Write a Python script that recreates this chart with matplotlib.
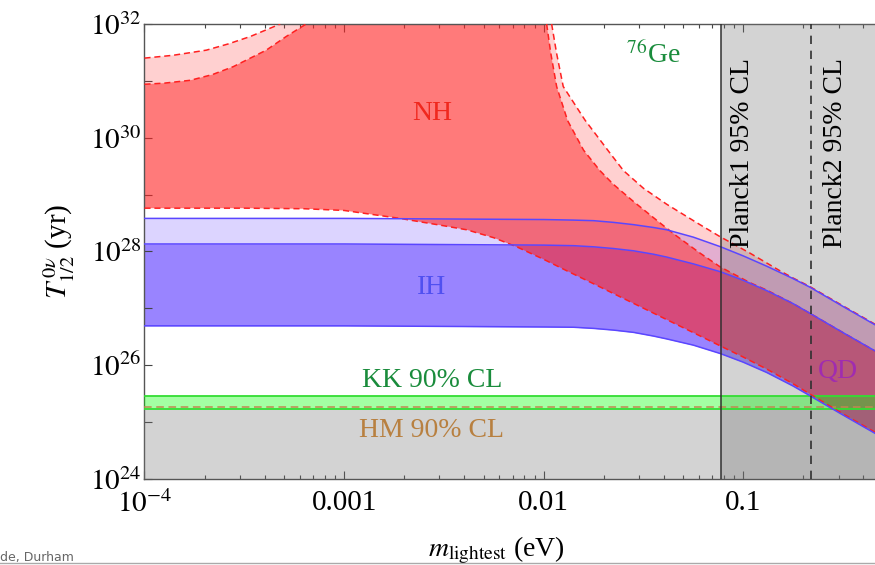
import matplotlib
matplotlib.use('Agg')
import matplotlib.pyplot as plt
import numpy as np
from matplotlib.lines import Line2D
from matplotlib.ticker import FixedLocator, FixedFormatter, LogLocator, NullFormatter

plt.rcParams['font.family'] = ['Liberation Serif', 'DejaVu Serif']
plt.rcParams['mathtext.fontset'] = 'stix'

# values: log10(m_lightest / eV) and log10(T_1/2 / yr)

# inverted hierarchy band
ih_logm = [-4.0, -3.0, -2.5, -2.0, -1.85, -1.75, -1.65, -1.55, -1.45, -1.384, -1.25, -1.113,
           -1.0, -0.883, -0.75, -0.666, -0.5, -0.301]
ih_hi = [28.58, 28.58, 28.57, 28.56, 28.55, 28.54, 28.51, 28.47, 28.42, 28.38, 28.25, 28.08,
         27.92, 27.74, 27.52, 27.37, 27.03, 26.63]
ih_mid = [28.13, 28.13, 28.12, 28.11, 28.10, 28.08, 28.05, 28.01, 27.95, 27.90, 27.78, 27.64,
          27.49, 27.31, 27.08, 26.91, 26.57, 26.17]
ih_lo = [26.69, 26.69, 26.68, 26.67, 26.665, 26.645, 26.615, 26.575, 26.51, 26.46, 26.35, 26.20,
         26.05, 25.87, 25.63, 25.46, 25.12, 24.72]

# normal hierarchy band, lower edge
nh_lo_logm = [-4.0, -3.5, -3.2, -3.0, -2.72, -2.5, -2.386, -2.25, -2.135, -2.0, -1.885, -1.75, -1.634,
              -1.5, -1.384, -1.25, -1.117, -1.0, -0.883, -0.75, -0.666, -0.5, -0.301]
nh_lo = [28.76, 28.76, 28.75, 28.72, 28.58, 28.45, 28.38, 28.24, 28.08, 27.86, 27.66, 27.43, 27.23,
         27.00, 26.80, 26.57, 26.34, 26.14, 25.93, 25.67, 25.49, 25.14, 24.74]

# normal hierarchy, upper edges left of the cancellation region
nh_in_l_logm = [-4.0, -3.9, -3.77, -3.66, -3.555, -3.39, -3.29, -3.19]
nh_in_l = [30.94, 30.96, 31.01, 31.11, 31.25, 31.54, 31.78, 32.0]
nh_out_l_logm = [-4.0, -3.856, -3.69, -3.58, -3.47, -3.32]
nh_out_l = [31.40, 31.45, 31.54, 31.65, 31.78, 32.0]

# normal hierarchy, upper edges right of the cancellation region
nh_in_r_logm = [-1.985, -1.965, -1.935, -1.88, -1.80, -1.718, -1.651, -1.551, -1.417, -1.334, -1.217,
                -1.117, -0.967, -0.883, -0.75, -0.666, -0.5, -0.301]
nh_in_r = [32.0, 31.50, 30.90, 30.30, 29.78, 29.42, 29.18, 28.88, 28.50, 28.27, 27.97,
           27.73, 27.45, 27.32, 27.08, 26.91, 26.57, 26.17]
nh_out_r_logm = [-1.96, -1.935, -1.902, -1.793, -1.668, -1.6, -1.5, -1.384, -1.217, -1.117, -0.967,
                 -0.817, -0.75, -0.666, -0.5, -0.301]
nh_out_r = [32.0, 31.48, 30.90, 30.31, 29.73, 29.42, 29.11, 28.83, 28.47, 28.26, 27.97,
            27.66, 27.53, 27.38, 27.04, 26.64]

# experimental limits
kk_band = [1.7e25, 2.9e25]
hm_bound = 1.86e25
planck1 = 0.077
planck2 = 0.218

xticks = [1e-4, 1e-3, 1e-2, 1e-1]
xticklabels = [r'$10^{-4}$', '0.001', '0.01', '0.1']
yexp = [24, 25, 26, 27, 28, 29, 30, 31, 32]


def polygon(lo_m, lo_t, right_m, right_t, left_m, left_t):
    xs = list(lo_m) + list(right_m[::-1]) + list(left_m[::-1])
    ys = list(lo_t) + list(right_t[::-1]) + list(left_t[::-1])
    return 10 ** np.array(xs), 10 ** np.array(ys)


nh_col = (1.0, 0.15, 0.15)
ih_col = (0.27, 0.12, 1.0)
gray = (0.46, 0.46, 0.46)

fig = plt.figure(figsize=(8.75, 5.65), dpi=100)
ax = fig.add_axes([0.1651, 0.1527, 0.8438, 0.8048])
ax.set_xscale('log')
ax.set_yscale('log')

m_ih = 10 ** np.array(ih_logm)
ax.fill_between(m_ih, 10 ** np.array(ih_lo), 10 ** np.array(ih_hi), color=ih_col, alpha=0.19, lw=0, zorder=1)
ax.fill_between(m_ih, 10 ** np.array(ih_lo), 10 ** np.array(ih_mid), color=ih_col, alpha=0.44, lw=0, zorder=1.1)

xo, yo = polygon(nh_lo_logm, nh_lo, nh_out_r_logm, nh_out_r, nh_out_l_logm, nh_out_l)
ax.fill(xo, yo, color=nh_col, alpha=0.217, lw=0, zorder=2)
xi, yi = polygon(nh_lo_logm, nh_lo, nh_in_r_logm, nh_in_r, nh_in_l_logm, nh_in_l)
ax.fill(xi, yi, color=nh_col, alpha=0.507, lw=0, zorder=2.1)

# excluded regions
ax.axvspan(planck1, 1.0, color=gray, alpha=0.318, lw=0, zorder=3)
ax.axhspan(1e23, kk_band[0], color=gray, alpha=0.318, lw=0, zorder=3)

# KK band
ax.axhspan(kk_band[0], kk_band[1], color=(0, 1, 0), alpha=0.36, lw=0, zorder=4)
for yk in kk_band:
    ax.axhline(yk, color='#33dd33', lw=1.3, zorder=4.5)
ax.axhline(hm_bound, color='#c08850', lw=1.1, dashes=(5, 3), zorder=4.6)

# band edges
nh_line = dict(color='#ff2020', lw=1.1, dashes=(4, 2.5), zorder=5)
ax.plot(10 ** np.array(nh_lo_logm), 10 ** np.array(nh_lo), **nh_line)
ax.plot(10 ** np.array(nh_in_l_logm), 10 ** np.array(nh_in_l), **nh_line)
ax.plot(10 ** np.array(nh_out_l_logm), 10 ** np.array(nh_out_l), **nh_line)
ax.plot(10 ** np.array(nh_in_r_logm), 10 ** np.array(nh_in_r), **nh_line)
ax.plot(10 ** np.array(nh_out_r_logm), 10 ** np.array(nh_out_r), **nh_line)
for edge in (ih_hi, ih_mid, ih_lo):
    ax.plot(m_ih, 10 ** np.array(edge), color='#5a46ff', lw=1.1, zorder=5.1)

ax.axvline(planck1, color='#303030', lw=1.1, zorder=6)
ax.axvline(planck2, color='#303030', lw=1.2, dashes=(5, 4), zorder=6)

# labels inside the plot
fs = 20
ax.text(10 ** -2.56, 10 ** 30.43, 'NH', color='#f0281e', fontsize=fs, ha='center', va='center', zorder=7)
ax.text(10 ** -2.56, 10 ** 27.37, 'IH', color='#5050f0', fontsize=fs, ha='center', va='center', zorder=7)
ax.text(10 ** -2.56, 10 ** 25.72, 'KK 90% CL', color='#1a8c3c', fontsize=fs, ha='center', va='center', zorder=7)
ax.text(10 ** -2.56, 10 ** 24.84, 'HM 90% CL', color='#b88040', fontsize=fs, ha='center', va='center', zorder=7)
ax.text(10 ** -0.526, 10 ** 25.88, 'QD', color='#a02cb0', fontsize=fs, ha='center', va='center', zorder=7)
ax.text(10 ** -1.45, 10 ** 31.45, r'$^{76}$Ge', color='#1a8c3c', fontsize=fs, ha='center', va='center', zorder=7)
ax.text(10 ** -1.004, 10 ** 29.73, 'Planck1 95% CL', rotation=90, fontsize=fs, ha='center', va='center', zorder=7)
ax.text(10 ** -0.538, 10 ** 29.73, 'Planck2 95% CL', rotation=90, fontsize=fs, ha='center', va='center', zorder=7)

ax.set_xlim(1e-4, 0.5)
ax.set_ylim(1e24, 1e32)

ax.xaxis.set_major_locator(FixedLocator(xticks))
ax.xaxis.set_major_formatter(FixedFormatter(xticklabels))
ax.xaxis.set_minor_locator(LogLocator(base=10, subs=np.arange(2, 10)))
ax.xaxis.set_minor_formatter(NullFormatter())
ax.yaxis.set_major_locator(FixedLocator([10.0 ** e for e in yexp]))
ax.yaxis.set_major_formatter(FixedFormatter([r'$10^{%d}$' % e if e % 2 == 0 else '' for e in yexp]))
ax.yaxis.set_minor_locator(LogLocator(base=10, subs=np.arange(2, 10)))
ax.yaxis.set_minor_formatter(NullFormatter())

ax.tick_params(which='both', direction='in', top=True, right=True, color='#444444', width=0.8)
ax.tick_params(which='major', length=6, labelsize=21)
ax.tick_params(which='minor', length=3)
ax.tick_params(axis='x', pad=8)
ax.tick_params(axis='y', pad=2)
for sp in ax.spines.values():
    sp.set_color('#555555')
    sp.set_linewidth(1.0)

ax.set_xlabel(r'$m_{\mathrm{lightest}}$ (eV)', fontsize=20)
ax.xaxis.set_label_coords(0.477, -0.122)
ax.set_ylabel(r'$T^{\,0\nu}_{1/2}$ (yr)', fontsize=21)
ax.yaxis.set_label_coords(-0.091, 0.5)

# slide footer remnants
fig.text(0.0, 0.002, 'de, Durham', fontsize=9, color='#666666', family='DejaVu Sans', va='bottom')
fig.add_artist(Line2D([0, 1], [0.003, 0.003], color='#aaaaaa', lw=1, transform=fig.transFigure))

fig.savefig('out.png', dpi=100)
